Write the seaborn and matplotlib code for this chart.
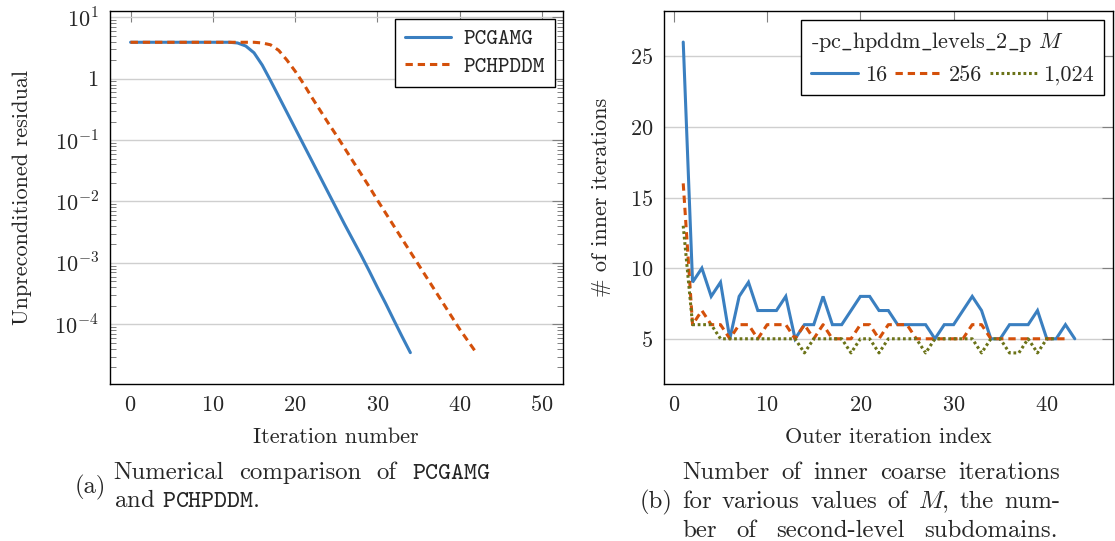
import matplotlib
matplotlib.use("Agg")
import matplotlib.pyplot as plt
import seaborn as sns
from matplotlib.ticker import FixedLocator, LogLocator, NullFormatter, MultipleLocator

# (a) residual history, one value per iteration
iters_amg = list(range(35))
res_amg = [3.9, 3.9, 3.9, 3.9, 3.9, 3.9, 3.9, 3.9, 3.9, 3.9, 3.9, 3.9, 3.9,
           3.80, 3.39, 2.63, 1.66, 0.933, 0.513, 0.282, 0.155, 0.0851, 0.0468,
           0.0257, 0.0141, 7.76e-3, 4.27e-3, 2.40e-3, 1.35e-3, 7.41e-4,
           3.98e-4, 2.19e-4, 1.17e-4, 6.31e-5, 3.47e-5]
iters_hpddm = list(range(43))
res_hpddm = [3.9, 3.9, 3.9, 3.9, 3.9, 3.9, 3.9, 3.9, 3.9, 3.9, 3.9, 3.9, 3.9,
             3.9, 3.9, 3.9, 3.80, 3.55, 2.88, 2.00, 1.32, 0.832, 0.501, 0.309,
             0.191, 0.120, 0.0741, 0.0457, 0.0282, 0.0174, 0.0105, 6.46e-3,
             3.98e-3, 2.45e-3, 1.51e-3, 9.33e-4, 5.75e-4, 3.55e-4, 2.19e-4,
             1.35e-4, 8.32e-5, 5.37e-5, 3.47e-5]

# (b) inner coarse iterations per outer iteration
inner_16 = [26, 9, 10, 8, 9, 5, 8, 9, 7, 7, 7, 8, 5, 6, 6, 8, 6, 6, 7, 8, 8, 7,
            7, 6, 6, 6, 6, 5, 6, 6, 7, 8, 7, 5, 5, 6, 6, 6, 7, 5, 5, 6, 5]
inner_256 = [16, 6, 7, 6, 6, 5, 6, 6, 5, 6, 6, 6, 5, 6, 5, 6, 5, 5, 5, 6, 6, 5,
             6, 6, 6, 5, 5, 5, 5, 5, 5, 6, 6, 5, 5, 5, 5, 5, 5, 5, 5, 5]
inner_1024 = [13, 6, 6, 6, 5, 5, 5, 5, 5, 5, 5, 5, 5, 4, 5, 5, 5, 5, 4, 5, 5, 4,
              5, 5, 5, 5, 4, 5, 5, 5, 5, 5, 4, 5, 5, 4, 4, 5, 4, 5, 5]
m_labels = ["16", "256", "1,024"]

BLUE, ORANGE, OLIVE = "#3a7fc0", "#d4500a", "#6b7318"
FS = 16
CAP = 17.8
W, H = 1115, 541

sns.set_style("white")
plt.rcParams["font.family"] = ["cmr10", "DejaVu Serif"]
plt.rcParams["mathtext.fontset"] = "cm"
plt.rcParams["axes.formatter.use_mathtext"] = True
plt.rcParams["axes.unicode_minus"] = False

fig = plt.figure(figsize=(W / 100, H / 100), dpi=100)
ax1 = fig.add_axes([110 / W, 1 - 384 / H, 452.6 / W, 373 / H])
ax2 = fig.add_axes([664.3 / W, 1 - 384 / H, 448.7 / W, 373 / H])

# ---- left panel
sns.lineplot(x=iters_amg, y=res_amg, ax=ax1, color=BLUE, linewidth=2.2)
sns.lineplot(x=iters_hpddm, y=res_hpddm, ax=ax1, color=ORANGE, linewidth=2.2,
             linestyle=(0, (2.4, 1.6)))
ax1.set_yscale("log")
ax1.set_xlim(-2.5, 52.5)
ax1.set_ylim(10 ** -4.97, 10 ** 1.1)
ax1.xaxis.set_major_locator(MultipleLocator(10))
ax1.yaxis.set_major_locator(FixedLocator([10, 1, 0.1, 0.01, 1e-3, 1e-4]))
ax1.set_yticklabels([r"$10^{1}$", r"$1$", r"$10^{-1}$", r"$10^{-2}$",
                     r"$10^{-3}$", r"$10^{-4}$"])
ax1.yaxis.set_minor_locator(LogLocator(base=10, subs=range(2, 10), numticks=20))
ax1.yaxis.set_minor_formatter(NullFormatter())
ax1.set_xlabel("Iteration number", fontsize=FS)
ax1.set_ylabel("Unpreconditioned residual", fontsize=FS)
ax1.yaxis.set_label_coords(-0.194, 0.5)
ax1.xaxis.set_label_coords(0.5, -0.142)
ax1.xaxis.label.set_va("center")
ax1.yaxis.label.set_va("center")

leg1 = ax1.legend(ax1.lines[:2], ["PCGAMG", "PCHPDDM"], loc="upper right",
                  fontsize=FS, frameon=True, fancybox=False, framealpha=1,
                  edgecolor="black", handlelength=2.1, handletextpad=0.55,
                  labelspacing=0.3, borderaxespad=0.35, borderpad=0.45)
leg1.get_frame().set_linewidth(1.0)
for t in leg1.get_texts():
    t.set_fontfamily("cmtt10")

# ---- right panel
outer = [list(range(1, len(s) + 1)) for s in (inner_16, inner_256, inner_1024)]
sns.lineplot(x=outer[0], y=inner_16, ax=ax2, color=BLUE, linewidth=2.2)
sns.lineplot(x=outer[1], y=inner_256, ax=ax2, color=ORANGE, linewidth=2.2,
             linestyle=(0, (2.4, 1.6)))
sns.lineplot(x=outer[2], y=inner_1024, ax=ax2, color=OLIVE, linewidth=2.2,
             linestyle=(0, (0.9, 0.9)))
ax2.lines[0].set_solid_joinstyle("miter")
ax2.set_xlim(-1.03, 47.1)
ax2.set_ylim(1.8, 28.2)
ax2.xaxis.set_major_locator(FixedLocator([0, 10, 20, 30, 40]))
ax2.yaxis.set_major_locator(FixedLocator([5, 10, 15, 20, 25]))
ax2.set_xlabel("Outer iteration index", fontsize=FS)
ax2.set_ylabel("# of inner iterations", fontsize=FS)
ax2.yaxis.set_label_coords(-0.141, 0.5)
ax2.xaxis.set_label_coords(0.5, -0.142)
ax2.xaxis.label.set_va("center")
ax2.yaxis.label.set_va("center")

leg2 = ax2.legend(ax2.lines[:3], m_labels, loc="upper right", ncol=3,
                  title=r"-pc$\_$hpddm$\_$levels$\_$2$\_$p $M$",
                  title_fontsize=FS, alignment="left", fontsize=FS,
                  frameon=True, fancybox=False, framealpha=1,
                  edgecolor="black", handlelength=2.1, handletextpad=0.3,
                  columnspacing=0.37, borderaxespad=0.4, borderpad=0.45)
leg2.get_frame().set_linewidth(1.0)

for ax in (ax1, ax2):
    ax.grid(axis="y", which="major", color="#cfcfcf", linewidth=1.0)
    ax.grid(axis="x", visible=False)
    ax.tick_params(which="major", direction="in", top=True, right=True,
                   length=8, width=0.8, color="#808080", labelsize=FS, pad=8)
    ax.tick_params(which="minor", direction="in", left=True, right=True,
                   length=4.5, width=0.7, color="#808080")
    for sp in ax.spines.values():
        sp.set_color("black")
        sp.set_linewidth(1.0)
    ax.set_axisbelow(True)


# ---- captions (justified lines as in the LaTeX source)
def put_line(words, x0, y, x1=None):
    texts = [fig.text(x0 / W, 1 - y / H, w, fontsize=CAP, va="center")
             for w in words]
    if x1 is None:
        return
    fig.canvas.draw()
    r = fig.canvas.get_renderer()
    widths = [t.get_window_extent(r).width for t in texts]
    gap = (x1 - x0 - sum(widths)) / (len(words) - 1)
    x = x0
    for t, w in zip(texts, widths):
        t.set_x(x / W)
        x += w + gap


fig.text(90 / W, 1 - 487 / H, "(a)", fontsize=CAP, ha="center", va="center")
put_line(["Numerical", "comparison", "of", r"$\mathtt{PCGAMG}$"], 113.6, 473, 491)
put_line([r"and $\mathtt{PCHPDDM}$."], 113.6, 501)

fig.text(656 / W, 1 - 502 / H, "(b)", fontsize=CAP, ha="center", va="center")
put_line(["Number", "of", "inner", "coarse", "iterations"], 682, 473, 1060)
put_line(["for", "various", "values", "of", "$M$,", "the", "num-"], 682, 502, 1060)
put_line(["ber", "of", "second-level", "subdomains."], 682, 531, 1058)

fig.savefig("out.png", dpi=100)
